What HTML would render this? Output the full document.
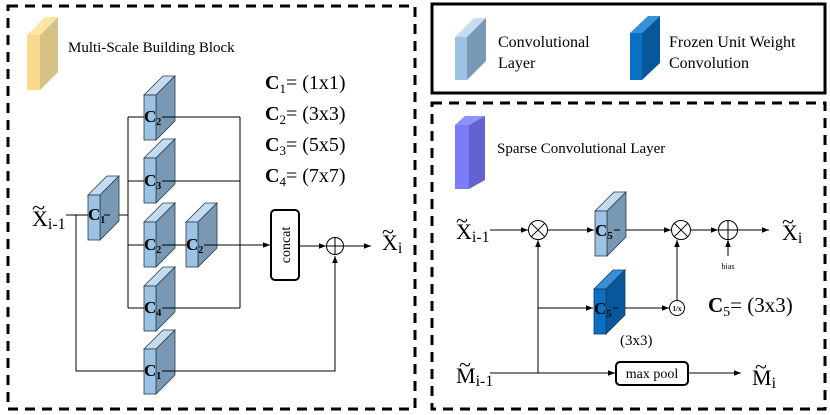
<!DOCTYPE html>
<html><head><meta charset="utf-8"><style>
html,body{margin:0;padding:0;background:#fff;}
svg{display:block;}
svg text{font-family:"Liberation Serif","DejaVu Serif",serif;}
</style></head><body>
<svg width="830" height="415" viewBox="0 0 830 415" xmlns="http://www.w3.org/2000/svg" font-family="Liberation Serif, DejaVu Serif, serif">
<defs>
<marker id="a" viewBox="0 0 10 10" refX="10" refY="5" markerWidth="7" markerHeight="7" orient="auto"><path d="M0,1 L10,5 L0,9 z" fill="#000"/></marker>
<g id="cb" stroke="#2a3a4a" stroke-width="0.8">
<polygon points="0,0 19,-19 31,-19 12,0" fill="#c4dcf0"/>
<polygon points="12,0 31,-19 31,26 12,45" fill="#7898b4"/>
<rect x="0" y="0" width="12" height="45" fill="#9cc2e4"/>
</g>
<g id="db" stroke="#1a3a5a" stroke-width="0.8">
<polygon points="0,0 19,-19 31,-19 12,0" fill="#3a90d8"/>
<polygon points="12,0 31,-19 31,26 12,45" fill="#06589a"/>
<rect x="0" y="0" width="12" height="45" fill="#0a70c4"/>
</g>
</defs>
<rect x="8" y="6" width="407" height="403" fill="none" stroke="#000" stroke-width="3" stroke-dasharray="10 7"/>
<rect x="432" y="4" width="393" height="89" fill="none" stroke="#000" stroke-width="3"/>
<rect x="432" y="103" width="393" height="306" fill="none" stroke="#000" stroke-width="3" stroke-dasharray="10 7"/>

<polygon points="27,35 45,17 58,17 40,35" fill="#fbe6a8"/>
<polygon points="40,35 58,17 58,72 40,90" fill="#d6c284"/>
<rect x="27" y="35" width="13" height="55" fill="#f9da8c"/>
<text x="68" y="52" font-size="15">Multi-Scale Building Block</text>

<g font-size="20">
<text x="265" y="89"><tspan font-weight="bold">C</tspan><tspan font-size="13" dy="4">1</tspan><tspan dy="-4">= (1x1)</tspan></text>
<text x="265" y="120"><tspan font-weight="bold">C</tspan><tspan font-size="13" dy="4">2</tspan><tspan dy="-4">= (3x3)</tspan></text>
<text x="265" y="151"><tspan font-weight="bold">C</tspan><tspan font-size="13" dy="4">3</tspan><tspan dy="-4">= (5x5)</tspan></text>
<text x="265" y="182"><tspan font-weight="bold">C</tspan><tspan font-size="13" dy="4">4</tspan><tspan dy="-4">= (7x7)</tspan></text>
</g>

<g stroke="#000" stroke-width="1" fill="none">
<line x1="66" y1="215" x2="88" y2="215"/>
<polyline points="76,215 76,371 335,371 335,256" marker-end="url(#a)"/>
<line x1="110" y1="215" x2="128" y2="215"/>
<line x1="128" y1="117" x2="128" y2="308"/>
<line x1="128" y1="117" x2="240" y2="117"/>
<line x1="128" y1="181" x2="240" y2="181"/>
<line x1="128" y1="245" x2="186" y2="245"/>
<line x1="128" y1="308" x2="240" y2="308"/>
<line x1="240" y1="117" x2="240" y2="308"/>
<line x1="198" y1="245" x2="270" y2="245" marker-end="url(#a)"/>
<line x1="299" y1="246" x2="326" y2="246" marker-end="url(#a)"/>
<line x1="344" y1="246" x2="371" y2="246" marker-end="url(#a)"/>
<circle cx="335" cy="246" r="8.5"/>
<line x1="326.5" y1="246" x2="343.5" y2="246"/>
<line x1="335" y1="237.5" x2="335" y2="254.5"/>
<rect x="271" y="210" width="28" height="70" rx="4" stroke-width="2"/>
</g>
<text transform="translate(290,245) rotate(-90)" text-anchor="middle" font-size="14">concat</text>

<use href="#cb" x="88" y="195"/>
<use href="#cb" x="144" y="95"/>
<use href="#cb" x="144" y="158"/>
<use href="#cb" x="144" y="222"/>
<use href="#cb" x="186" y="222"/>
<use href="#cb" x="144" y="286"/>
<use href="#cb" x="144" y="349"/>
<g stroke="#000" stroke-width="1">
<line x1="104" y1="215" x2="110" y2="215"/>
<line x1="162" y1="117" x2="175" y2="117"/>
<line x1="162" y1="181" x2="175" y2="181"/>
<line x1="162" y1="245" x2="186" y2="245"/>
<line x1="204" y1="245" x2="217" y2="245"/>
<line x1="162" y1="308" x2="175" y2="308"/>
<line x1="162" y1="371" x2="175" y2="371"/>
</g>
<g font-size="17" font-weight="bold">
<text x="88" y="220">C<tspan font-size="10" dy="3">1</tspan></text>
<text x="144" y="122">C<tspan font-size="10" dy="3">2</tspan></text>
<text x="144" y="186">C<tspan font-size="10" dy="3">3</tspan></text>
<text x="144" y="250">C<tspan font-size="10" dy="3">2</tspan></text>
<text x="186" y="250">C<tspan font-size="10" dy="3">2</tspan></text>
<text x="144" y="313">C<tspan font-size="10" dy="3">4</tspan></text>
<text x="144" y="376">C<tspan font-size="10" dy="3">1</tspan></text>
</g>
<g font-size="22">
<text x="32" y="226">X<tspan font-size="16" dy="3">i-1</tspan></text>
<text x="32" y="215" font-size="22" transform="translate(32,215) scale(1.1,1) translate(-32,-215)">~</text>
<text x="382" y="250">X<tspan font-size="16" dy="3">i</tspan></text>
<text x="382" y="239" font-size="22">~</text>
</g>

<polygon points="455,37 474,18 486,18 467,37" fill="#c4dcf0"/>
<polygon points="467,37 486,18 486,61 467,80" fill="#7898b4"/>
<rect x="455" y="37" width="12" height="43" fill="#9cc2e4"/>
<polygon points="630,33 648,16 660,16 642,33" fill="#3a90d8"/>
<polygon points="642,33 660,16 660,63 642,80" fill="#06589a"/>
<rect x="630" y="33" width="12" height="47" fill="#0a70c4"/>
<g font-size="16">
<text x="498" y="47">Convolutional</text>
<text x="498" y="68">Layer</text>
<text x="669" y="47">Frozen Unit Weight</text>
<text x="669" y="68">Convolution</text>
</g>

<polygon points="455,125 465,116 485,116 469,125" fill="#9090ff"/>
<polygon points="469,125 485,116 485,180 469,189" fill="#6262d2"/>
<rect x="455" y="125" width="14" height="64" fill="#7c7cf8"/>
<text x="497" y="153" font-size="15">Sparse Convolutional Layer</text>

<g stroke="#000" stroke-width="1" fill="none">
<line x1="490" y1="230" x2="528" y2="230" marker-end="url(#a)"/>
<line x1="548" y1="230" x2="594" y2="230" marker-end="url(#a)"/>
<line x1="610" y1="230" x2="671" y2="230" marker-end="url(#a)"/>
<line x1="691" y1="230" x2="718" y2="230" marker-end="url(#a)"/>
<line x1="738" y1="230" x2="769" y2="230" marker-end="url(#a)"/>
<line x1="728" y1="256" x2="728" y2="240" marker-end="url(#a)"/>
<line x1="538" y1="373" x2="538" y2="240" marker-end="url(#a)"/>
<line x1="538" y1="308" x2="593" y2="308" marker-end="url(#a)"/>
<line x1="608" y1="308" x2="669" y2="308" marker-end="url(#a)"/>
<line x1="677" y1="300" x2="677" y2="240" marker-end="url(#a)"/>
<line x1="490" y1="373" x2="615" y2="373" marker-end="url(#a)"/>
<line x1="689" y1="373" x2="741" y2="373" marker-end="url(#a)"/>
<circle cx="538" cy="230" r="9.5" fill="#fff"/>
<line x1="531.3" y1="223.3" x2="544.7" y2="236.7"/><line x1="544.7" y1="223.3" x2="531.3" y2="236.7"/>
<circle cx="681" cy="230" r="9.5" fill="#fff"/>
<line x1="674.3" y1="223.3" x2="687.7" y2="236.7"/><line x1="687.7" y1="223.3" x2="674.3" y2="236.7"/>
<circle cx="728" cy="230" r="9.5" fill="#fff"/>
<line x1="718.5" y1="230" x2="737.5" y2="230"/><line x1="728" y1="220.5" x2="728" y2="239.5"/>
<circle cx="677" cy="308" r="7.5" fill="#fff"/>
<rect x="616" y="362" width="72" height="23" rx="4" stroke-width="2" fill="#fff"/>
</g>
<text x="677" y="311" font-size="7" text-anchor="middle" font-weight="bold">1/x</text>
<text x="728" y="269" font-size="8" text-anchor="middle">bias</text>
<text x="652" y="378" font-size="14" text-anchor="middle">max pool</text>

<use href="#cb" x="595" y="211"/>
<use href="#db" x="594" y="289"/>
<g stroke="#000" stroke-width="1">
<line x1="614" y1="230" x2="620" y2="230"/>
<line x1="613" y1="308" x2="618" y2="308"/>
</g>
<g font-size="17" font-weight="bold">
<text x="595" y="236">C<tspan font-size="11" dy="3">5</tspan></text>
<text x="594" y="314">C<tspan font-size="11" dy="3">5</tspan></text>
</g>
<text x="620" y="345" font-size="15">(3x3)</text>
<text x="708" y="312" font-size="21"><tspan font-weight="bold">C</tspan><tspan font-size="14" dy="4">5</tspan><tspan dy="-4">= (3x3)</tspan></text>
<g font-size="22">
<text x="456" y="239">X<tspan font-size="16" dy="3">i-1</tspan></text>
<text x="456" y="228">~</text>
<text x="782" y="240">X<tspan font-size="16" dy="3">i</tspan></text>
<text x="782" y="229">~</text>
<text x="456" y="383">M<tspan font-size="16" dy="3">i-1</tspan></text>
<text x="459" y="372">~</text>
<text x="752" y="385">M<tspan font-size="16" dy="3">i</tspan></text>
<text x="755" y="374">~</text>
</g>
</svg>
</body></html>
